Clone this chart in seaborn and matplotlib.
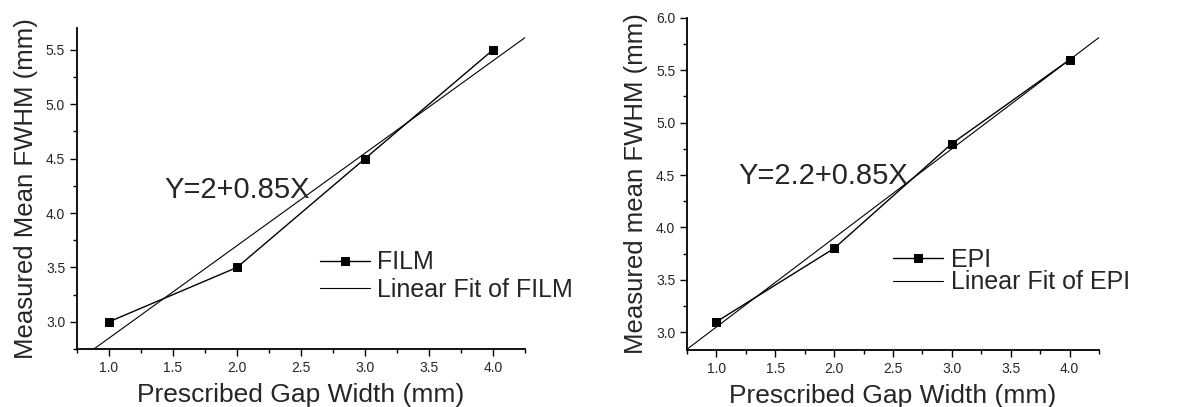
import numpy as np
import pandas as pd
import matplotlib
matplotlib.use("Agg")
import matplotlib.pyplot as plt
from matplotlib.ticker import MultipleLocator
import seaborn as sns

# data
gap_width = [1.0, 2.0, 3.0, 4.0]
film_fwhm = [3.0, 3.5, 4.5, 5.5]
epi_fwhm = [3.1, 3.8, 4.8, 5.6]

sns.set_style("ticks")
plt.rcParams['font.family'] = ['Liberation Sans', 'DejaVu Sans']

fig = plt.figure(figsize=(11.79, 4.07), dpi=100)
ax1 = fig.add_axes([0.0653, 0.1425, 0.38, 0.7885])
ax2 = fig.add_axes([0.5827, 0.140, 0.3494, 0.816])


def draw_panel(ax, y, name, ylab, ylim, yticks, eq, eq_pos, leg_pos, leg_sp):
    df = pd.DataFrame({"x": gap_width, "y": y})
    slope, icpt = np.polyfit(gap_width, y, 1)
    xs = np.array([0.75, 4.25])
    fit = pd.DataFrame({"x": xs, "y": icpt + slope * xs})
    sns.lineplot(data=df, x="x", y="y", ax=ax, color="black", lw=1.0,
                 marker="s", markersize=6, markeredgecolor="black",
                 label=name)
    sns.lineplot(data=fit, x="x", y="y", ax=ax, color="black", lw=0.8,
                 label="Linear Fit of " + name)
    ax.set_xlim(0.75, 4.25)
    ax.set_ylim(*ylim)
    ax.set_xticks([1.0, 1.5, 2.0, 2.5, 3.0, 3.5, 4.0])
    ax.set_yticks(yticks)
    ax.xaxis.set_minor_locator(MultipleLocator(0.25))
    ax.yaxis.set_minor_locator(MultipleLocator(0.25))
    ax.tick_params(which="major", direction="out", length=5, width=1,
                   labelsize=10, color="black")
    ax.tick_params(which="minor", direction="out", length=3, width=1,
                   color="black")
    for s in ["top", "right"]:
        ax.spines[s].set_visible(False)
    for s in ["left", "bottom"]:
        ax.spines[s].set_linewidth(1.3)
        ax.spines[s].set_color("black")
    ax.set_xlabel("Prescribed Gap Width (mm)", fontsize=19, labelpad=6)
    ax.set_ylabel(ylab, fontsize=18.5, labelpad=6)
    ax.text(eq_pos[0], eq_pos[1], eq, fontsize=21, ha="center", va="center")
    ax.legend(loc="center left", bbox_to_anchor=leg_pos, frameon=False,
              fontsize=18, handlelength=2.0, handletextpad=0.3,
              labelspacing=leg_sp, borderaxespad=0)


draw_panel(ax1, film_fwhm, "FILM", "Measured Mean FWHM (mm)", (2.75, 5.7),
           [3.0, 3.5, 4.0, 4.5, 5.0, 5.5], "Y=2+0.85X", (2.0, 4.21),
           (0.52, 0.227), 0.15)
draw_panel(ax2, epi_fwhm, "EPI", "Measured mean FWHM (mm)", (2.83, 6.0),
           [3.0, 3.5, 4.0, 4.5, 5.0, 5.5, 6.0], "Y=2.2+0.85X", (1.905, 4.49),
           (0.476, 0.238), -0.05)

fig.savefig("out.png", dpi=100)
